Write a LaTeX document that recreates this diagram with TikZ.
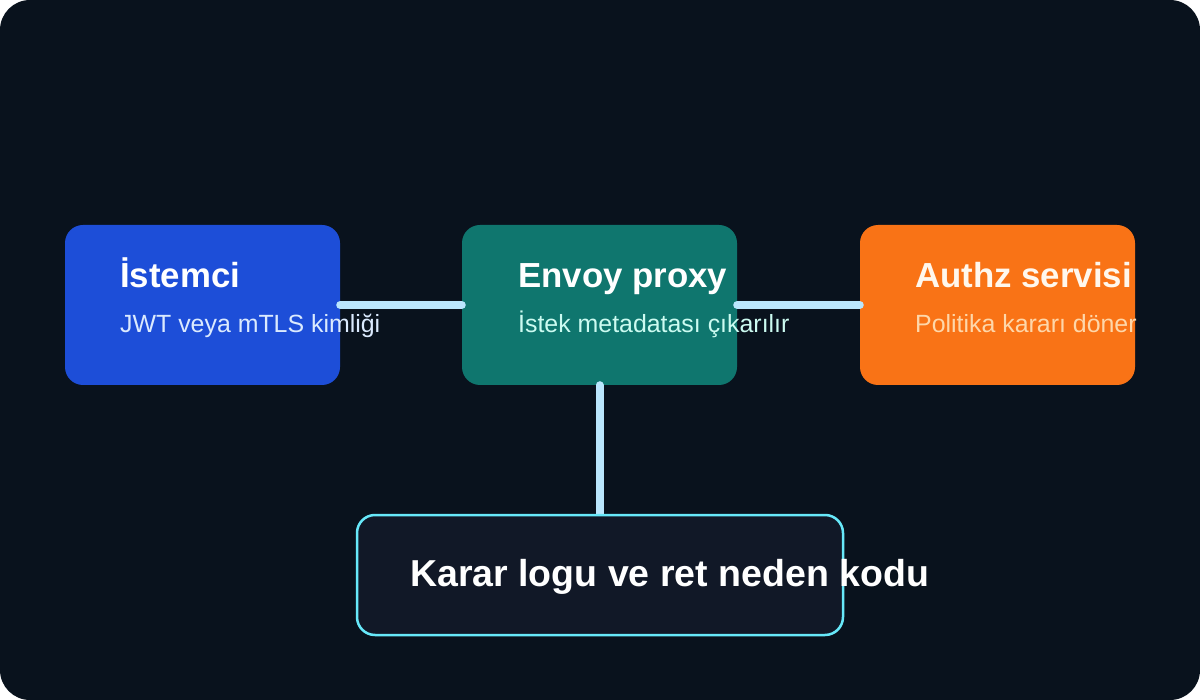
\documentclass[tikz,border=0pt]{standalone}
\usepackage{fontspec}
\setmainfont{Liberation Sans}
\usepackage{tikz}
\usetikzlibrary{positioning,calc}
\definecolor{page}{HTML}{09121D}
\definecolor{blue}{HTML}{1D4ED8}
\definecolor{lightblue}{HTML}{DBEAFE}
\definecolor{teal}{HTML}{0F766E}
\definecolor{lightteal}{HTML}{CCFBF1}
\definecolor{orange}{HTML}{F97316}
\definecolor{lightorange}{HTML}{FED7AA}
\definecolor{paleorange}{HTML}{FFF7ED}
\definecolor{logfill}{HTML}{111827}
\definecolor{cyan}{HTML}{67E8F9}
\definecolor{wire}{HTML}{BAE6FD}

\begin{document}
\begin{tikzpicture}[
 x=1pt,y=-1pt,
 card/.style={rounded corners=18pt,minimum width=275pt,minimum height=160pt,inner sep=0pt},
 logbox/.style={draw=cyan,line width=2.5pt,fill=logfill,rounded corners=18pt,minimum width=486pt,minimum height=120pt,inner sep=0pt},
 head/.style={anchor=base west,inner sep=0pt,font=\fontsize{34.8}{40}\selectfont\bfseries},
 sub/.style={anchor=base west,inner sep=0pt,font=\fontsize{24.9}{28}\selectfont},
 arr/.style={line width=8pt,line cap=round,draw=wire}
]
\useasboundingbox (0,0) rectangle (1200,700);
\fill[white] (0,0) rectangle (1200,700);
\fill[page,rounded corners=30pt] (0,0) rectangle (1200,700);

\node[card,fill=blue] (cli) at (202.5,305) {};
\node[head,text=white] (cliT) at (120,288) {İstemci};
\node[sub,text=lightblue] (cliS) at (120,333) {JWT veya mTLS kimliği};

\node[card,fill=teal] (env) at (599.5,305) {};
\node[head,text=white] (envT) at (518,288) {Envoy proxy};
\node[sub,text=lightteal] (envS) at (518,333) {İstek metadatası çıkarılır};

\node[card,fill=orange] (auth) at (997.5,305) {};
\node[head,text=paleorange] (authT) at (915,288) {Authz servisi};
\node[sub,text=lightorange] (authS) at (915,333) {Politika kararı döner};

\draw[arr] (cli.east) -- (env.west); \draw[arr] (env.east) -- (auth.west);
\draw[arr] (env.south) -- ++(0,130);

\node[logbox] (log) at (600,575) {};
\node[head,text=white,font=\fontsize{37.5}{44}\selectfont\bfseries] (logT) at (410,586) {Karar logu ve ret neden kodu};
\end{tikzpicture}
\end{document}
